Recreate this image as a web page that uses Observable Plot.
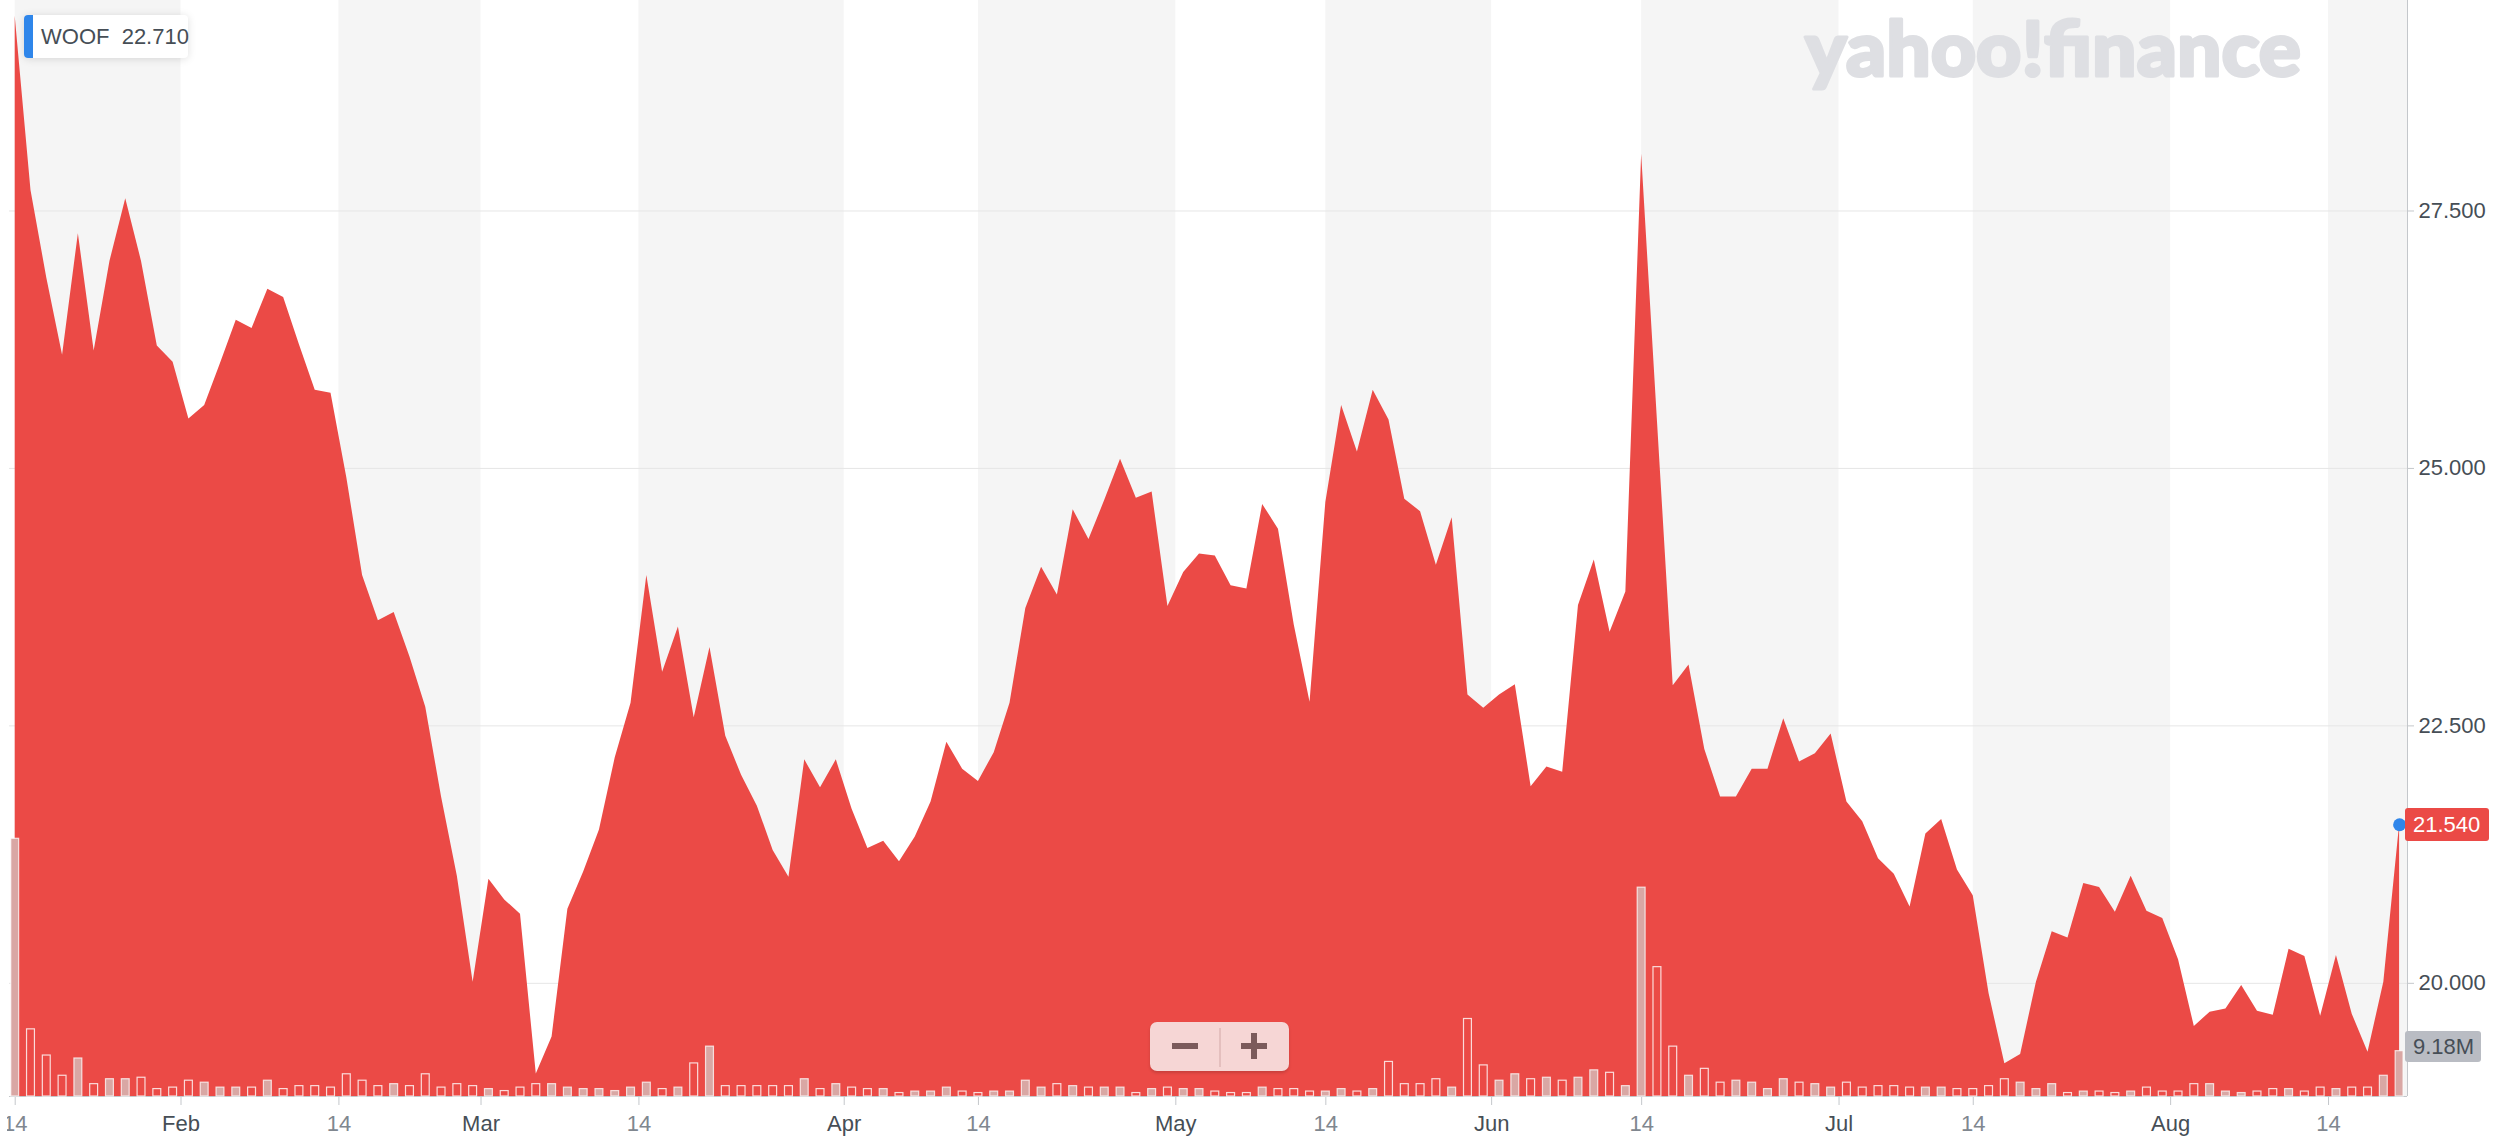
<!DOCTYPE html>
<html>
<head>
<meta charset="utf-8">
<script src="https://cdn.jsdelivr.net/npm/d3@7"></script>
<script src="https://cdn.jsdelivr.net/npm/@observablehq/plot@0.6"></script>
<style>
  html, body { margin: 0; padding: 0; background: #fff; }
  #chart { position: relative; width: 2500px; height: 1147px; overflow: hidden; font-family: "Liberation Sans", Arial, sans-serif; }
  #clip { position: absolute; left: 7px; top: 0; width: 2493px; height: 1147px; overflow: hidden; }
  #clip svg { position: absolute; left: -7px; top: 0; max-width: none !important; }
  .lbl { position: absolute; box-sizing: border-box; font-size: 22px; white-space: nowrap; }
</style>
</head>
<body>
<div id="chart"><div id="clip"></div></div>
<script>
// ---- data (daily closes, Jan 14 – Aug 20, one value per trading day) ----
const symbol = "WOOF";
const legendValue = "22.710";
const close = [
  29.39, 27.70, 26.85, 26.10, 27.28, 26.14, 27.01, 27.62, 27.01, 26.19,
  26.03, 25.48, 25.61, 26.02, 26.44, 26.36, 26.74, 26.66, 26.20, 25.76,
  25.73, 24.91, 23.96, 23.52, 23.60, 23.17, 22.68, 21.81, 21.04, 20.01,
  21.01, 20.81, 20.67, 19.12, 19.48, 20.72, 21.08, 21.49, 22.19, 22.72,
  23.96, 23.02, 23.46, 22.58, 23.26, 22.40, 22.02, 21.72, 21.29, 21.03,
  22.17, 21.90, 22.17, 21.69, 21.31, 21.38, 21.18, 21.42, 21.76, 22.34,
  22.08, 21.96, 22.24, 22.72, 23.64, 24.04, 23.77, 24.60, 24.31, 24.69,
  25.09, 24.71, 24.77, 23.66, 23.99, 24.17, 24.15, 23.86, 23.83, 24.65,
  24.41, 23.48, 22.73, 24.67, 25.61, 25.16, 25.76, 25.47, 24.70, 24.58,
  24.06, 24.52, 22.80, 22.67, 22.80, 22.90, 21.91, 22.10, 22.05, 23.67,
  24.11, 23.41, 23.80, 28.05, 25.46, 22.89, 23.09, 22.27, 21.81, 21.81,
  22.08, 22.08, 22.57, 22.15, 22.23, 22.42, 21.76, 21.57, 21.21, 21.06,
  20.74, 21.45, 21.59, 21.10, 20.85, 19.90, 19.22, 19.31, 20.01, 20.50,
  20.44, 20.97, 20.93, 20.69, 21.04, 20.70, 20.63, 20.23, 19.58, 19.72,
  19.75, 19.98, 19.73, 19.69, 20.33, 20.26, 19.68, 20.27, 19.70, 19.33,
  20.01, 21.54
];
// daily volume, millions of shares
const volume = [
  52.2, 13.6, 8.3, 4.2, 7.7, 2.5, 3.5, 3.5, 3.8, 1.5,
  1.8, 3.2, 2.8, 1.8, 1.8, 1.8, 3.2, 1.5, 2.1, 2.1,
  1.8, 4.5, 3.2, 2.1, 2.5, 2.1, 4.5, 1.8, 2.5, 2.1,
  1.5, 1.1, 1.8, 2.5, 2.5, 1.8, 1.5, 1.5, 1.1, 1.8,
  2.8, 1.5, 1.8, 6.7, 10.1, 2.1, 2.1, 2.1, 2.1, 2.1,
  3.5, 1.5, 2.5, 1.8, 1.5, 1.5, 0.7, 1.0, 1.0, 1.8,
  1.0, 0.7, 1.0, 1.0, 3.2, 1.8, 2.5, 2.1, 1.8, 1.8,
  1.8, 0.7, 1.5, 1.8, 1.5, 1.5, 1.0, 0.7, 0.7, 1.8,
  1.5, 1.5, 1.0, 1.0, 1.5, 1.0, 1.5, 7.0, 2.5, 2.5,
  3.5, 1.8, 15.7, 6.3, 3.2, 4.5, 3.5, 3.8, 3.2, 3.8,
  5.3, 4.8, 2.1, 42.3, 26.2, 10.1, 4.2, 5.6, 2.8, 3.2,
  2.8, 1.5, 3.5, 2.8, 2.5, 1.8, 2.8, 1.8, 2.1, 2.1,
  1.8, 1.8, 1.8, 1.5, 1.5, 2.1, 3.5, 2.8, 1.5, 2.5,
  0.7, 1.0, 1.0, 0.7, 1.0, 1.8, 1.0, 1.0, 2.5, 2.5,
  1.0, 0.7, 1.0, 1.5, 1.5, 1.0, 1.8, 1.5, 1.8, 1.8,
  4.2, 9.18
];
const lastVolumeLabel = "9.18M";
// x-axis ticks, in trading-day index units
const tickPos = [0, 10.5, 20.5, 29.5, 39.5, 52.5, 61, 73.5, 83, 93.5, 103, 115.5, 124, 136.5, 146.5];
const tickLabels = ["14", "Feb", "14", "Mar", "14", "Apr", "14", "May", "14", "Jun", "14", "Jul", "14", "Aug", "14"];
const priceTicks = [20, 22.5, 25, 27.5];

// ---- layout ----
const W = 2500, H = 1147;
const mL = 9, mR = 93, mB = 51;
const xDomain = [-0.361, 151.5];
const yDomain = [18.901, 29.544];
const volDomain = [0, 222];
const font = '"Liberation Sans", Arial, sans-serif';

const rows = close.map((c, i) => ({ i, close: c, vol: volume[i], up: i === 0 || c >= close[i - 1] }));
const labelMap = new Map(tickPos.map((p, k) => [p, tickLabels[k]]));
const monthPos = tickPos.filter((p, k) => tickLabels[k] !== "14");
const midPos = tickPos.filter((p, k) => tickLabels[k] === "14");
const bands = midPos.map((s) => ({ start: s, end: monthPos.find((m) => m > s) ?? xDomain[1] }));

const axisStroke = "#c4c7cb";

const main = Plot.plot({
  width: W, height: H,
  marginLeft: mL, marginRight: mR, marginTop: 0, marginBottom: mB,
  x: { domain: xDomain, axis: null },
  y: { domain: yDomain, axis: null },
  style: { fontFamily: font, fontSize: "22px", color: "#464e56", background: "#fff" },
  marks: [
    Plot.rect(bands, { x1: "start", x2: "end", fill: "#f5f5f5" }),
    Plot.gridY(priceTicks, { stroke: "#e6e6e6", strokeOpacity: 1 }),
    Plot.areaY(rows, { x: "i", y1: () => yDomain[0], y2: "close", fill: "#eb4a46" }),
    Plot.ruleY([yDomain[0]], { stroke: axisStroke }),
    Plot.ruleX([xDomain[1]], { stroke: axisStroke }),
    Plot.axisY({ anchor: "right", ticks: priceTicks, tickFormat: d3.format(".3f"), tickSize: 6, tickPadding: 5,
                 stroke: axisStroke, fill: "#464e56", fontSize: 22, label: null }),
    Plot.axisX({ ticks: monthPos, tickFormat: (d) => labelMap.get(d), tickSize: 9, tickPadding: 10,
                 stroke: axisStroke, fill: "#464e56", fontSize: 22, label: null }),
    Plot.axisX({ ticks: midPos, tickFormat: (d) => labelMap.get(d), tickSize: 9, tickPadding: 10,
                 stroke: axisStroke, fill: "#80878f", fontSize: 22, label: null }),
    Plot.dot([rows[rows.length - 1]], { x: "i", y: "close", r: 6.5, fill: "#2f86ea" })
  ]
});

const vol = Plot.plot({
  width: W, height: H,
  marginLeft: mL, marginRight: mR, marginTop: 0, marginBottom: mB,
  x: { domain: xDomain, axis: null },
  y: { domain: volDomain, axis: null },
  style: { background: "transparent" },
  marks: [
    Plot.rect(rows.filter((d) => !d.up), { x1: (d) => d.i - 0.25, x2: (d) => d.i + 0.25, y1: () => 0, y2: "vol",
      fill: "none", stroke: "rgba(255,255,255,0.8)", strokeWidth: 1.2 }),
    Plot.rect(rows.filter((d) => d.up), { x1: (d) => d.i - 0.25, x2: (d) => d.i + 0.25, y1: () => 0, y2: "vol",
      fill: "#d9a7a4", stroke: "rgba(255,255,255,0.75)", strokeWidth: 1.2 })
  ]
});

const clip = document.getElementById("clip");
clip.appendChild(main);
clip.appendChild(vol);

const chart = document.getElementById("chart");
function addDiv(css, text) {
  const d = document.createElement("div");
  d.className = "lbl";
  d.style.cssText += css;
  if (text != null) d.textContent = text;
  chart.appendChild(d);
  return d;
}

// last price label
const last = rows[rows.length - 1];
const yPx = main.scale("y").apply(last.close);
addDiv(`left:2405px;top:${yPx - 16.5}px;width:84px;height:33px;line-height:33px;padding-left:8px;background:#eb4a46;color:#fff;border-radius:3px;`,
  d3.format(".3f")(last.close));

// last volume label
const vPx = vol.scale("y").apply(last.vol);
addDiv(`left:2405px;top:${vPx - 20}px;width:76px;height:31px;line-height:31px;padding-left:8px;background:#b9bcc3;color:#464e56;border-radius:3px;`,
  lastVolumeLabel);

// legend
const leg = addDiv(`left:24px;top:15px;width:164px;height:43px;line-height:43px;padding-left:17px;background:#fff;color:#464e56;border-radius:4px;box-shadow:0 1px 8px rgba(0,0,0,0.13);`);
const strip = document.createElement("div");
strip.style.cssText = "position:absolute;left:0;top:0;width:8.5px;height:43px;background:#2f86ea;border-radius:4px 0 0 4px;";
leg.appendChild(strip);
const legText = document.createElement("span");
legText.textContent = symbol + "\u00a0\u00a0" + legendValue;
leg.appendChild(legText);

// watermark
const ns = "http://www.w3.org/2000/svg";
const logo = document.createElementNS(ns, "svg");
logo.setAttribute("width", W); logo.setAttribute("height", 120);
logo.style.cssText = "position:absolute;left:0;top:0;pointer-events:none;";
const lt = document.createElementNS(ns, "text");
lt.setAttribute("x", 1805); lt.setAttribute("y", 75.8);
lt.setAttribute("textLength", 496); lt.setAttribute("lengthAdjust", "spacingAndGlyphs");
lt.setAttribute("fill", "#dedfe3");
lt.setAttribute("stroke", "#dedfe3");
lt.setAttribute("stroke-width", "3");
lt.setAttribute("stroke-linejoin", "round");
lt.setAttribute("style", "font-family:Lato, 'Liberation Sans', sans-serif;font-weight:900;font-size:77px;");
lt.textContent = "yahoo!finance";
logo.appendChild(lt);
chart.appendChild(logo);

// zoom buttons
const zb = addDiv("left:1150px;top:1022px;width:139px;height:49px;background:#f6d6d5;border-radius:7px;box-shadow:0 2px 3px rgba(0,0,0,0.15);");
function bar(l, t, w, h, c) {
  const b = document.createElement("div");
  b.style.cssText = `position:absolute;left:${l}px;top:${t}px;width:${w}px;height:${h}px;background:${c};`;
  zb.appendChild(b);
}
bar(69, 6, 1.5, 39, "#e4bfbe");
bar(22, 21, 26, 5.5, "#7b5a5b");
bar(91, 21, 26, 5.5, "#7b5a5b");
bar(101.3, 10.8, 5.5, 26, "#7b5a5b");
</script>
</body>
</html>
